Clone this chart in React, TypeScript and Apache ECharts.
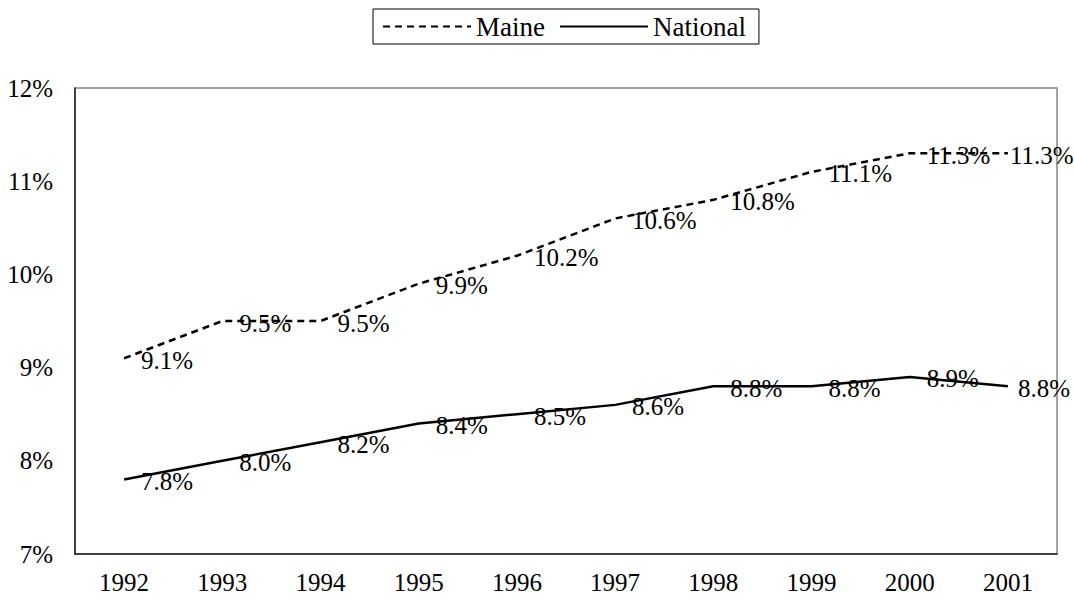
import React, { useEffect, useRef } from "react";
import * as echarts from "echarts";

const years = ["1992", "1993", "1994", "1995", "1996", "1997", "1998", "1999", "2000", "2001"];
const maine = [9.1, 9.5, 9.5, 9.9, 10.2, 10.6, 10.8, 11.1, 11.3, 11.3];
const national = [7.8, 8.0, 8.2, 8.4, 8.5, 8.6, 8.8, 8.8, 8.9, 8.8];

const FONT = "Liberation Serif, Times New Roman, serif";
const FS = 25;

export default function App() {
  const ref = useRef<HTMLDivElement>(null);
  useEffect(() => {
    if (!ref.current) return;
    const chart = echarts.init(ref.current, undefined, { renderer: "svg" });
    const mkData = (arr: number[], lastDist: number) =>
      arr.map((v, i) =>
        i === arr.length - 1 ? { value: v, label: { distance: lastDist } } : { value: v }
      );
    const labelCfg = {
      show: true,
      position: "right" as const,
      distance: 17,
      offset: [0, 2],
      color: "#000",
      opacity: 1,
      fontSize: FS,
      fontFamily: FONT,
      formatter: (p: any) => Number(p.value).toFixed(1) + "%",
    };
    chart.setOption({
      animation: false,
      backgroundColor: "#fff",
      textStyle: { fontFamily: FONT },
      legend: {
        top: 9,
        left: 373,
        data: ["Maine", "National"],
        borderColor: "#000",
        borderWidth: 1,
        padding: [4, 13, 4, 9],
        itemWidth: 88,
        itemHeight: 14,
        itemGap: 14,
        itemStyle: { opacity: 0, borderWidth: 0 },
        textStyle: { fontSize: 27, fontFamily: FONT, color: "#000" },
      },
      grid: {
        left: 75,
        right: 17,
        top: 88,
        bottom: 51,
        containLabel: false,
        show: true,
        borderColor: "#888",
        borderWidth: 1.5,
      },
      xAxis: {
        type: "category",
        data: years,
        boundaryGap: true,
        axisLine: { show: true, lineStyle: { color: "#222", width: 1.5 } },
        axisTick: { show: false },
        axisLabel: { color: "#000", fontSize: FS, fontFamily: FONT, margin: 16 },
        splitLine: { show: false },
      },
      yAxis: {
        type: "value",
        min: 7,
        max: 12,
        interval: 1,
        axisLine: { show: true, lineStyle: { color: "#222", width: 1.5 } },
        axisTick: { show: false },
        axisLabel: {
          color: "#000",
          fontSize: FS,
          fontFamily: FONT,
          margin: 22,
          formatter: "{value}%",
        },
        splitLine: { show: false },
      },
      series: [
        {
          name: "Maine",
          type: "line",
          data: mkData(maine, 2),
          symbol: "circle",
          symbolSize: 0,
          showSymbol: true,
          lineStyle: { color: "#000", width: 2.5, type: [7, 5] },
          itemStyle: { color: "#000" },
          label: labelCfg,
        },
        {
          name: "National",
          type: "line",
          data: mkData(national, 10),
          symbol: "circle",
          symbolSize: 0,
          showSymbol: true,
          lineStyle: { color: "#000", width: 2.5, type: "solid" },
          itemStyle: { color: "#000" },
          label: labelCfg,
        },
      ],
    });
    return () => chart.dispose();
  }, []);
  return <div ref={ref} style={{ width: 1074, height: 605, position: "absolute", left: 0, top: 0 }} />;
}
